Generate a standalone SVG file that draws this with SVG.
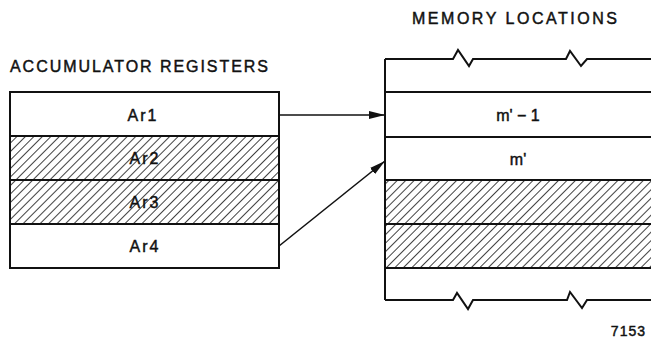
<svg xmlns="http://www.w3.org/2000/svg" width="651" height="341" viewBox="0 0 651 341">
<style>
.t{font-family:"Liberation Sans","DejaVu Sans",sans-serif;fill:#111;stroke:#111;stroke-width:0.45;}
.lbl{font-size:16px;letter-spacing:2px;text-anchor:middle;}
.ttl{font-size:16px;}
.ln{stroke:#111;stroke-width:2;fill:none;}
.box{stroke:#111;stroke-width:2;}
.conn{stroke:#111;stroke-width:1.6;fill:none;}
</style>
<defs>
<pattern id="hatch" patternUnits="userSpaceOnUse" width="6" height="20" patternTransform="rotate(45)">
<line x1="0" y1="-5" x2="0" y2="25" stroke="#111" stroke-width="1.6"/>
</pattern>
<marker id="ah" markerWidth="16" markerHeight="8" refX="16" refY="4" orient="auto" markerUnits="userSpaceOnUse">
<path d="M0,0 L16,4 L0,8 Z" fill="#111"/>
</marker>
</defs>
<rect width="651" height="341" fill="#fff"/>

<text class="t ttl" x="10" y="72" textLength="258" lengthAdjust="spacing">ACCUMULATOR REGISTERS</text>
<text class="t ttl" x="412" y="24" font-size="16.5" textLength="205" lengthAdjust="spacing">MEMORY LOCATIONS</text>

<g id="ar1">
<rect x="10" y="92" width="269" height="44" fill="#fff" class="box"/>
<text class="t lbl" x="143" y="121">Ar1</text>
</g>
<g id="ar2">
<rect x="10" y="136" width="269" height="44" fill="url(#hatch)" class="box"/>
<text class="t lbl" x="145" y="164">Ar2</text>
</g>
<g id="ar3">
<rect x="10" y="180" width="269" height="44" fill="url(#hatch)" class="box"/>
<text class="t lbl" x="145" y="208">Ar3</text>
</g>
<g id="ar4">
<rect x="10" y="224" width="269" height="44" fill="#fff" class="box"/>
<text class="t lbl" x="145" y="252">Ar4</text>
</g>

<g id="memory">
<rect x="385" y="180" width="270" height="88" fill="url(#hatch)"/>
<path class="ln" d="M385,59 L453,59 L458,50 L469,66 L473,59 L566,59 L570,51 L581,66 L587,59 L651,59"/>
<path class="ln" d="M385,300 L453,300 L457,293 L468,309 L473,300 L567,300 L570,292 L582,308 L587,300 L651,300"/>
<path class="ln" d="M385,59 L385,300"/>
<path class="ln" d="M385,92 H651 M385,137 H651 M385,180 H651 M385,224 H651 M385,268 H651"/>
</g>
<g id="m1">
<text class="t" x="518" y="121" font-size="16" text-anchor="middle">m' − 1</text>
</g>
<g id="m0">
<text class="t" x="518" y="165" font-size="16" text-anchor="middle">m'</text>
</g>

<g id="connectors">
<line class="conn" x1="279" y1="115" x2="385" y2="115" marker-end="url(#ah)"/>
<line class="conn" x1="279" y1="246" x2="385" y2="161" marker-end="url(#ah)"/>
</g>

<text class="t" x="646" y="336" font-size="14" text-anchor="end" letter-spacing="1">7153</text>
</svg>
